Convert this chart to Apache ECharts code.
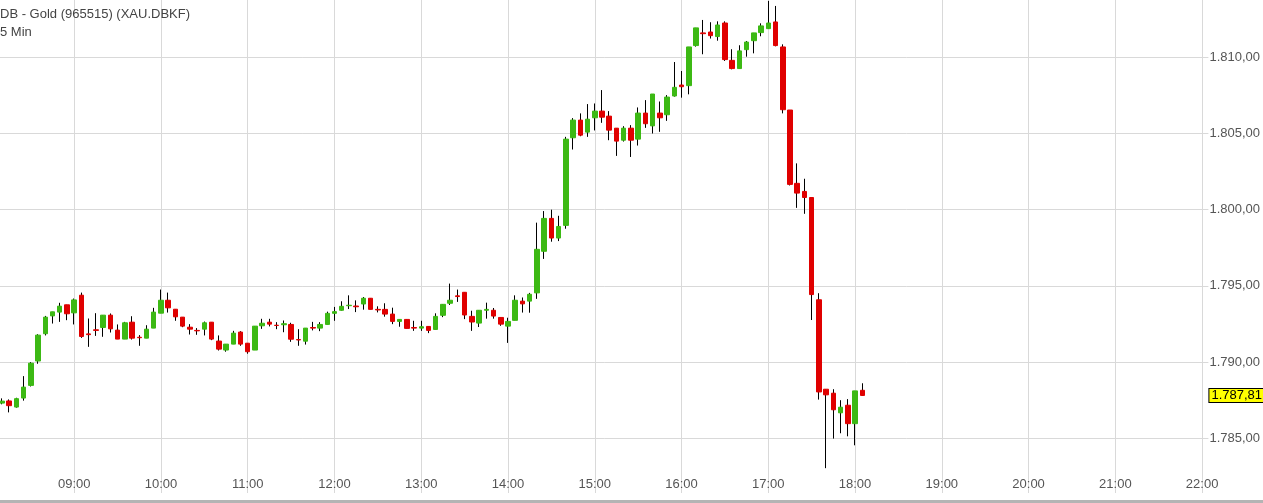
<!DOCTYPE html>
<html>
<head>
<meta charset="utf-8">
<title>Gold 5 Min</title>
<script src="https://cdn.jsdelivr.net/npm/echarts@6/dist/echarts.min.js"></script>
<style>
  html, body { margin: 0; padding: 0; background: #fff; }
  #main { width: 1263px; height: 503px; }
</style>
</head>
<body>
<div id="main"></div>
<script>
// 5 minute candles, one entry per bar
var times = [
  '08:10','08:15','08:20','08:25','08:30','08:35','08:40','08:45','08:50','08:55',
  '09:00','09:05','09:10','09:15','09:20','09:25','09:30','09:35','09:40','09:45','09:50','09:55',
  '10:00','10:05','10:10','10:15','10:20','10:25','10:30','10:35','10:40','10:45','10:50','10:55',
  '11:00','11:05','11:10','11:15','11:20','11:25','11:30','11:35','11:40','11:45','11:50','11:55',
  '12:00','12:05','12:10','12:15','12:20','12:25','12:30','12:35','12:40','12:45','12:50','12:55',
  '13:00','13:05','13:10','13:15','13:20','13:25','13:30','13:35','13:40','13:45','13:50','13:55',
  '14:00','14:05','14:10','14:15','14:20','14:25','14:30','14:35','14:40','14:45','14:50','14:55',
  '15:00','15:05','15:10','15:15','15:20','15:25','15:30','15:35','15:40','15:45','15:50','15:55',
  '16:00','16:05','16:10','16:15','16:20','16:25','16:30','16:35','16:40','16:45','16:50','16:55',
  '17:00','17:05','17:10','17:15','17:20','17:25','17:30','17:35','17:40','17:45','17:50','17:55',
  '18:00','18:05'
];
var open = [
  1787.31,1787.45,1787.05,1787.64,1788.47,1790.07,1791.86,1793.03,1793.28,1793.76,
  1793.23,1794.39,1791.85,1792.12,1792.27,1793.08,1792.10,1791.51,1792.62,1791.63,1791.57,1792.23,
  1793.21,1794.06,1793.47,1792.95,1792.29,1792.08,1792.16,1792.62,1791.38,1790.79,1791.18,1791.97,
  1791.24,1790.79,1792.38,1792.62,1792.42,1792.45,1792.47,1791.48,1791.37,1792.27,1792.23,1792.47,
  1793.20,1793.40,1793.70,1793.68,1793.81,1794.19,1793.46,1793.46,1793.15,1792.67,1792.80,1792.27,
  1792.23,1792.34,1792.14,1793.07,1793.86,1794.35,1794.58,1793.00,1792.56,1793.40,1793.40,1792.93,
  1792.36,1792.74,1794.00,1794.00,1794.54,1797.27,1799.43,1798.14,1798.97,1804.72,1805.88,1805.09,
  1806.03,1806.47,1806.14,1805.35,1804.56,1805.35,1804.63,1806.34,1805.50,1806.34,1806.23,1807.46,
  1808.18,1808.14,1810.77,1811.60,1811.66,1811.36,1812.25,1809.80,1809.26,1810.50,1811.09,1811.62,
  1811.88,1812.32,1810.68,1806.54,1801.73,1801.20,1800.80,1794.09,1788.22,1787.96,1786.67,1787.17,
  1785.96,1788.15
];
var close = [
  1787.44,1787.14,1787.60,1788.36,1789.93,1791.77,1792.95,1793.30,1793.67,1793.17,
  1794.08,1791.68,1791.80,1792.08,1793.08,1792.18,1791.51,1792.58,1791.57,1791.60,1792.16,1793.28,
  1794.06,1793.56,1792.97,1792.36,1792.16,1792.05,1792.58,1791.51,1790.85,1791.18,1791.90,1791.18,
  1790.68,1792.36,1792.55,1792.49,1792.40,1792.52,1791.50,1791.45,1792.23,1792.23,1792.47,1793.20,
  1793.31,1793.66,1793.73,1793.63,1794.19,1793.46,1793.42,1793.15,1792.67,1792.80,1792.21,1792.23,
  1792.32,1792.08,1793.00,1793.79,1794.06,1794.30,1793.09,1792.63,1793.40,1793.46,1793.02,1792.49,
  1792.67,1794.06,1793.82,1794.45,1797.40,1799.43,1798.14,1798.90,1804.63,1805.88,1804.89,1805.94,
  1806.47,1806.07,1805.22,1804.50,1805.35,1804.56,1806.34,1805.64,1807.59,1806.03,1807.39,1808.03,
  1808.07,1810.68,1811.93,1811.55,1811.42,1812.12,1809.85,1809.26,1810.42,1811.00,1811.60,1812.06,
  1812.25,1810.77,1806.56,1801.66,1801.09,1800.80,1794.43,1788.04,1787.85,1786.87,1787.04,1785.96,
  1788.11,1787.81
];
var low = [
  1787.23,1786.70,1787.01,1787.47,1788.40,1789.89,1791.75,1792.53,1792.64,1792.75,
  1792.47,1791.59,1791.00,1791.72,1791.66,1791.94,1791.51,1791.51,1791.48,1791.07,1791.57,1792.23,
  1793.21,1793.25,1792.71,1792.29,1791.81,1791.79,1791.75,1791.44,1790.76,1790.68,1791.18,1791.07,
  1790.55,1790.79,1792.18,1792.34,1792.16,1791.96,1791.33,1791.07,1791.15,1792.08,1792.03,1792.45,
  1792.71,1793.38,1793.48,1793.28,1793.44,1793.46,1793.26,1792.98,1792.49,1792.32,1792.21,1792.05,
  1792.05,1791.90,1792.14,1792.95,1793.75,1793.95,1792.82,1792.05,1792.30,1792.85,1792.85,1792.38,
  1791.26,1792.74,1793.25,1793.24,1794.15,1796.77,1797.90,1797.94,1798.75,1803.95,1804.82,1804.78,
  1805.20,1805.70,1804.56,1803.53,1804.47,1803.46,1804.21,1805.37,1805.00,1805.11,1805.83,1807.42,
  1807.35,1807.57,1810.70,1810.20,1811.23,1811.09,1809.76,1809.21,1809.26,1810.04,1810.26,1811.38,
  1811.86,1810.72,1806.32,1801.59,1800.12,1799.73,1792.76,1787.54,1783.04,1784.98,1785.33,1785.13,
  1784.54,1787.78
];
var high = [
  1787.62,1787.55,1787.66,1789.08,1790.00,1791.83,1793.03,1793.30,1793.89,1793.76,
  1794.17,1794.56,1792.86,1793.21,1793.08,1793.19,1792.47,1792.64,1793.01,1791.77,1792.42,1793.56,
  1794.76,1794.56,1793.47,1792.95,1792.49,1792.23,1792.66,1792.62,1791.75,1791.18,1792.05,1792.03,
  1791.24,1792.36,1792.84,1792.84,1792.62,1792.73,1792.58,1792.16,1792.23,1792.64,1792.62,1793.31,
  1793.62,1793.99,1794.38,1794.05,1794.27,1794.19,1793.66,1793.86,1793.57,1792.80,1792.80,1792.71,
  1792.71,1792.34,1793.20,1793.79,1795.15,1794.76,1794.58,1793.37,1793.40,1793.90,1793.55,1792.93,
  1792.91,1794.38,1794.24,1794.54,1799.15,1799.91,1800.00,1799.60,1804.78,1806.01,1806.32,1806.93,
  1806.97,1807.85,1806.47,1805.35,1805.48,1805.55,1806.71,1807.19,1807.59,1807.10,1807.52,1809.69,
  1809.10,1810.68,1811.93,1812.45,1812.30,1812.36,1812.36,1810.53,1810.79,1811.07,1811.60,1812.23,
  1813.70,1813.37,1810.85,1806.54,1803.04,1802.03,1800.80,1794.52,1788.22,1788.22,1787.50,1787.57,
  1788.11,1788.61
];

var title = 'DB - Gold (965515) (XAU.DBKF)\n5 Min';
var font = 'Liberation Sans, Arial, sans-serif';
var upColor = '#3cb914';
var downColor = '#e00000';

function ts(t) {
  var p = t.split(':');
  return Date.UTC(2021, 5, 1, +p[0], +p[1]);
}

function deNum(v) {
  var s = v.toFixed(2).split('.');
  return s[0].replace(/\B(?=(\d{3})+(?!\d))/g, '.') + ',' + s[1];
}

// wick series: full range in black, body series: open/close only in colour
var wicks = [];
var bodies = [];
for (var i = 0; i < times.length; i++) {
  var lo = Math.min(open[i], close[i]);
  var hi = Math.max(open[i], close[i]);
  wicks.push([ts(times[i]), open[i], close[i], low[i], high[i]]);
  bodies.push([ts(times[i]), open[i], close[i], lo, hi]);
}
var lastClose = close[close.length - 1];

var chartDom = document.getElementById('main');
var myChart = echarts.init(chartDom);
var option;

option = {
  animation: false,
  useUTC: true,
  backgroundColor: '#ffffff',
  title: {
    text: title,
    left: 0,
    top: 5,
    padding: 0,
    textStyle: {
      fontFamily: font,
      fontSize: 13,
      fontWeight: 'normal',
      color: '#444',
      lineHeight: 18
    }
  },
  grid: {
    left: 0,
    right: 53,
    top: 0,
    bottom: 10,
    containLabel: false
  },
  xAxis: {
    type: 'time',
    min: Date.UTC(2021, 5, 1, 8, 8, 41),
    max: Date.UTC(2021, 5, 1, 22, 4, 21),
    minInterval: 3600 * 1000,
    maxInterval: 3600 * 1000,
    axisLine: { show: false },
    axisTick: { show: false },
    splitLine: {
      show: true,
      showMinLine: false,
      showMaxLine: false,
      lineStyle: { color: '#d9d9d9', width: 1 }
    },
    axisLabel: {
      inside: true,
      margin: 2,
      showMinLabel: false,
      showMaxLabel: false,
      formatter: '{HH}:{mm}',
      color: '#555',
      fontSize: 13,
      fontFamily: font
    }
  },
  yAxis: {
    type: 'value',
    position: 'right',
    min: 1781.41,
    max: 1813.76,
    splitNumber: 7,
    scale: true,
    axisLine: { show: false },
    axisTick: { show: false },
    splitLine: {
      show: true,
      showMinLine: false,
      showMaxLine: false,
      lineStyle: { color: '#d9d9d9', width: 1 }
    },
    axisLabel: {
      margin: 1,
      showMinLabel: false,
      showMaxLabel: false,
      formatter: deNum,
      color: '#555',
      fontSize: 13,
      fontFamily: font
    }
  },
  graphic: [
    {
      type: 'rect',
      left: 0,
      bottom: 0,
      shape: { width: 1263, height: 3 },
      style: { fill: '#b4b4b4' }
    }
  ],
  series: [
    {
      name: 'wick',
      type: 'candlestick',
      data: wicks,
      barWidth: 1,
      itemStyle: {
        color: '#000',
        color0: '#000',
        borderColor: '#000',
        borderColor0: '#000',
        borderColorDoji: '#000',
        borderWidth: 1
      }
    },
    {
      name: 'XAU',
      type: 'candlestick',
      data: bodies,
      barWidth: 5,
      clip: false,
      itemStyle: {
        color: upColor,
        color0: downColor,
        borderColor: upColor,
        borderColor0: downColor,
        borderColorDoji: downColor,
        borderWidth: 1
      },
      markLine: {
        silent: true,
        symbol: 'none',
        lineStyle: { color: 'rgba(0,0,0,0)', width: 1, type: 'solid' },
        data: [{ yAxis: lastClose }],
        label: {
          show: true,
          position: 'end',
          distance: 1,
          formatter: function () { return deNum(lastClose); },
          backgroundColor: '#ffff00',
          borderColor: '#000',
          borderWidth: 1,
          padding: [0, 6, 0, 2],
          color: '#000',
          fontSize: 13,
          lineHeight: 13,
          fontFamily: font
        }
      }
    }
  ]
};

option && myChart.setOption(option);
</script>
</body>
</html>
